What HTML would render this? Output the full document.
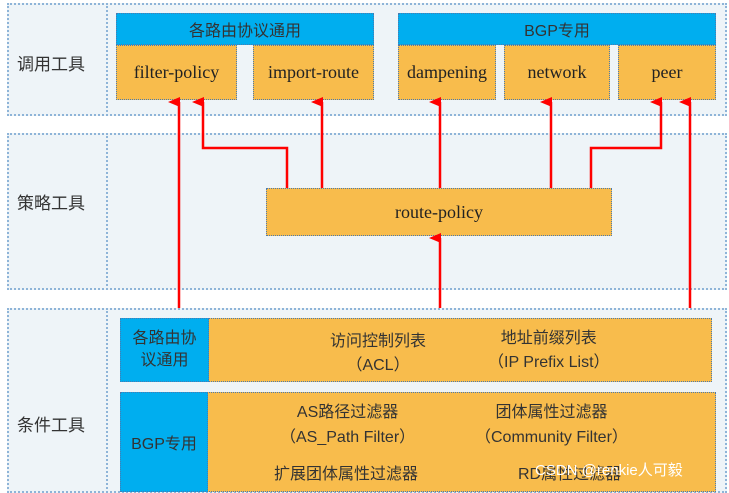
<!DOCTYPE html>
<html><head><meta charset="utf-8"><style>
body{margin:0;width:729px;height:487px;background:#fff;position:relative;overflow:hidden;font-family:"Liberation Sans","Noto Sans CJK SC",sans-serif}
.a{position:absolute;box-sizing:border-box}
.sec{background:#eef4f8;border:2px dotted #8eb4d8}
.blue{background:#00aeef;border:1px dotted #4a7ab0;color:#333;display:flex;align-items:center;justify-content:center;font-size:16px}
.or{background:#f8bc4c;border:1px dotted #4a7ab0;color:#222;display:flex;align-items:center;justify-content:center;font-family:"Liberation Serif","Noto Serif CJK SC",serif;font-size:18px}
.lab{font-size:17px;color:#333;font-family:"Liberation Sans","Noto Sans CJK SC",sans-serif}
.t{position:absolute;font-size:16px;color:#333;text-align:center;white-space:nowrap}
</style></head><body>
<div class="a sec" style="left:7px;top:3px;width:720px;height:113px"></div>
<div class="a" style="left:106px;top:3px;width:0;height:113px;border-left:2px dotted #8eb4d8"></div>
<div class="a sec" style="left:7px;top:133px;width:720px;height:157px"></div>
<div class="a" style="left:106px;top:133px;width:0;height:157px;border-left:2px dotted #8eb4d8"></div>
<div class="a sec" style="left:7px;top:308px;width:720px;height:185px"></div>
<div class="a" style="left:106px;top:308px;width:0;height:185px;border-left:2px dotted #8eb4d8"></div>
<div class="a lab" style="left:17px;top:50px">调用工具</div>
<div class="a lab" style="left:17px;top:189px">策略工具</div>
<div class="a lab" style="left:17px;top:411px">条件工具</div>

<div class="a blue" style="left:116px;top:13px;width:258px;height:32px">各路由协议通用</div>
<div class="a blue" style="left:398px;top:13px;width:318px;height:32px">BGP专用</div>
<div class="a or" style="left:116px;top:45px;width:121px;height:55px">filter-policy</div>
<div class="a or" style="left:253px;top:45px;width:121px;height:55px">import-route</div>
<div class="a or" style="left:398px;top:45px;width:98px;height:55px">dampening</div>
<div class="a or" style="left:504px;top:45px;width:106px;height:55px">network</div>
<div class="a or" style="left:618px;top:45px;width:98px;height:55px">peer</div>
<div class="a or" style="left:266px;top:188px;width:346px;height:48px">route-policy</div>

<div class="a or" style="left:120px;top:318px;width:592px;height:64px"></div>
<div class="a blue" style="left:120px;top:318px;width:89px;height:64px;font-size:16px;line-height:22px;text-align:center;align-items:center">各路由协<br>议通用</div>
<div class="a or" style="left:120px;top:392px;width:596px;height:100px"></div>
<div class="a blue" style="left:120px;top:392px;width:88px;height:100px">BGP专用</div>
<div class="t" style="left:330px;top:330px;line-height:24px">访问控制列表<br>（ACL）</div>
<div class="t" style="left:488px;top:327px;line-height:24px">地址前缀列表<br>（IP Prefix List）</div>
<div class="t" style="left:280px;top:400px;line-height:25px">AS路径过滤器<br>（AS_Path Filter）</div>
<div class="t" style="left:475px;top:400px;line-height:25px">团体属性过滤器<br>（Community Filter）</div>
<div class="t" style="left:274px;top:460px">扩展团体属性过滤器</div>
<div class="t" style="left:518px;top:460px">RD属性过滤器</div>
<div class="t" style="left:535px;top:459px;color:#fff;font-size:15px">CSDN @renkie人可毅</div>

<svg class="a" style="left:0;top:0" width="729" height="487">
<defs><marker id="m" markerWidth="10" markerHeight="12" refX="5" refY="11" orient="auto-start-reverse" markerUnits="userSpaceOnUse" viewBox="0 0 10 12"><path d="M0,12 L5,0 L10,12Z" fill="#f00"/></marker></defs>
<g stroke="#f00" stroke-width="2.5" fill="none">
<path d="M179,308 V102" marker-end="url(#m)"/>
<path d="M287,188 V148 H203 V102" marker-end="url(#m)"/>
<path d="M322,188 V102" marker-end="url(#m)"/>
<path d="M440,188 V102" marker-end="url(#m)"/>
<path d="M551,188 V102" marker-end="url(#m)"/>
<path d="M591,188 V148 H661 V102" marker-end="url(#m)"/>
<path d="M690,308 V102" marker-end="url(#m)"/>
<path d="M440,308 V238" marker-end="url(#m)"/>
</g></svg>
</body></html>
